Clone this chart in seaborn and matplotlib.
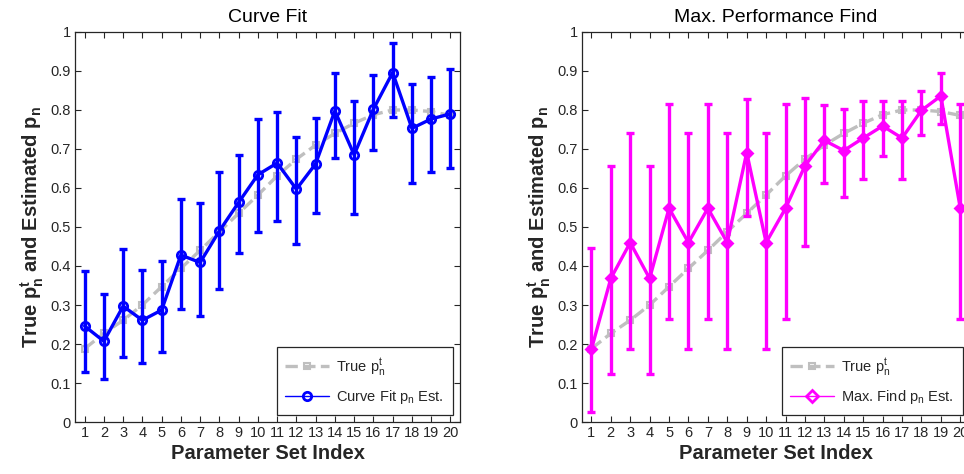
import numpy as np
import pandas as pd
import matplotlib
matplotlib.use("Agg")
import matplotlib.pyplot as plt
import seaborn as sns
from matplotlib.lines import Line2D

# --- data ---
param_idx = list(range(1, 21))

true_p = [0.188, 0.227, 0.261, 0.300, 0.347, 0.394, 0.440, 0.488, 0.535, 0.582,
          0.631, 0.674, 0.710, 0.740, 0.766, 0.788, 0.800, 0.800, 0.796, 0.786]

fit_est = [0.246, 0.207, 0.297, 0.261, 0.287, 0.428, 0.409, 0.490, 0.563, 0.634,
           0.664, 0.597, 0.662, 0.798, 0.685, 0.802, 0.896, 0.753, 0.777, 0.790]
fit_hi = [0.388, 0.328, 0.443, 0.391, 0.414, 0.571, 0.561, 0.642, 0.685, 0.777,
          0.794, 0.732, 0.779, 0.895, 0.824, 0.890, 0.972, 0.867, 0.884, 0.905]
fit_lo = [0.128, 0.111, 0.167, 0.152, 0.180, 0.291, 0.273, 0.341, 0.434, 0.488,
          0.515, 0.456, 0.537, 0.676, 0.533, 0.698, 0.783, 0.614, 0.640, 0.651]

max_est = [0.186, 0.368, 0.460, 0.368, 0.548, 0.460, 0.548, 0.460, 0.691, 0.460,
           0.548, 0.657, 0.722, 0.696, 0.728, 0.759, 0.728, 0.799, 0.836, 0.548]
max_hi = [0.447, 0.657, 0.741, 0.657, 0.816, 0.741, 0.816, 0.741, 0.828, 0.741,
          0.816, 0.832, 0.813, 0.802, 0.822, 0.824, 0.822, 0.848, 0.896, 0.816]
max_lo = [0.026, 0.122, 0.187, 0.122, 0.264, 0.187, 0.264, 0.187, 0.527, 0.187,
          0.264, 0.452, 0.612, 0.576, 0.623, 0.681, 0.623, 0.735, 0.765, 0.264]

df = pd.DataFrame({
    "idx": param_idx, "true": true_p,
    "fit": fit_est, "fit_lo": fit_lo, "fit_hi": fit_hi,
    "max": max_est, "max_lo": max_lo, "max_hi": max_hi,
})

sns.set_theme(style="ticks")
plt.rcParams["font.family"] = ["Liberation Sans", "DejaVu Sans"]
plt.rcParams["mathtext.fontset"] = "custom"
plt.rcParams["mathtext.rm"] = "Liberation Sans"
plt.rcParams["mathtext.it"] = "Liberation Sans"
plt.rcParams["mathtext.bf"] = "Liberation Sans:bold"

gray = "#bfbfbf"
dark = "#262626"
panels = [
    ("Curve Fit", "fit", "#0000ff", "o", "Curve Fit $\\mathregular{p_n}$ Est.", [0.0778, 0.1097, 0.3994, 0.8228]),
    ("Max. Performance Find", "max", "#ff00ff", "D", "Max. Find $\\mathregular{p_n}$ Est.", [0.6034, 0.1097, 0.4028, 0.8228]),
]

fig = plt.figure(figsize=(9.64, 4.74), dpi=100)

for title, key, color, mk, lab, pos in panels:
    ax = fig.add_axes(pos)
    # true values, dashed grey with squares
    sns.lineplot(data=df, x="idx", y="true", ax=ax, color=gray, lw=2.4,
                 linestyle="--", marker="s", markersize=5, markerfacecolor="none",
                 markeredgecolor=gray, markeredgewidth=1.5, zorder=2)
    # error bars
    yerr = [df[key] - df[key + "_lo"], df[key + "_hi"] - df[key]]
    ax.errorbar(df["idx"], df[key], yerr=yerr, fmt="none", ecolor=color,
                elinewidth=2.4, capsize=3, capthick=2.4, zorder=3)
    # estimate line
    sns.lineplot(data=df, x="idx", y=key, ax=ax, color=color, lw=2.4,
                 marker=mk, markersize=6 if mk == "o" else 5.5,
                 markerfacecolor="none" if mk == "o" else color,
                 markeredgecolor=color, markeredgewidth=2, zorder=4)

    ax.set_xlim(0.5, 20.5)
    ax.set_ylim(0, 1)
    ax.set_xticks(param_idx)
    ax.set_yticks(np.arange(0, 1.01, 0.1))
    ax.set_yticklabels(["0"] + [f"{v:.1f}" for v in np.arange(0.1, 1.0, 0.1)] + ["1"])
    ax.tick_params(direction="in", top=True, right=True, length=4, width=0.8,
                   labelsize=10.5, pad=3, colors=dark)
    for sp in ax.spines.values():
        sp.set_visible(True)
        sp.set_linewidth(0.9)
        sp.set_color(dark)
    ax.set_title(title, fontsize=14, pad=7, color="black")
    ax.set_xlabel("Parameter Set Index", fontsize=14.5, fontweight="bold", labelpad=3)
    ax.set_ylabel("True $\\mathbf{p_n^t}$ and Estimated $\\mathbf{p_n}$",
                  fontsize=14.5, fontweight="bold", labelpad=3)

    handles = [
        Line2D([], [], color=gray, lw=2.4, linestyle="--", marker="s", markersize=5,
               markerfacecolor="none", markeredgecolor=gray, markeredgewidth=1.5),
        Line2D([], [], color=color, lw=1, marker=mk, markersize=6,
               markerfacecolor="none", markeredgecolor=color, markeredgewidth=2),
    ]
    leg = ax.legend(handles, ["True $\\mathregular{p_n^t}$", lab], loc="lower right",
                    fontsize=10.5, frameon=True, fancybox=False, edgecolor=dark,
                    framealpha=1, borderaxespad=0.5, handlelength=3.0,
                    labelspacing=0.7, borderpad=0.6, handletextpad=0.5)
    leg.get_frame().set_linewidth(0.9)

fig.savefig("out.png", dpi=100)
